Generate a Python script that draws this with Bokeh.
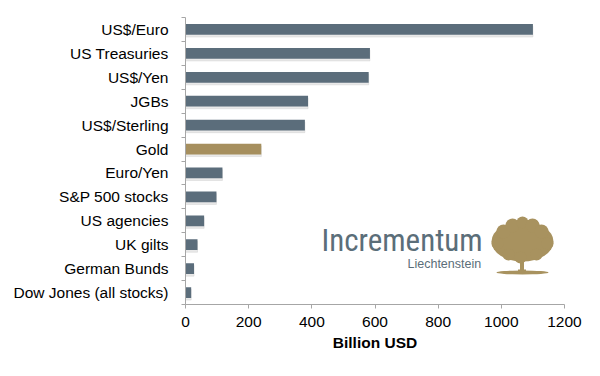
from bokeh.plotting import figure
from bokeh.models import ColumnDataSource, FixedTicker, Range1d, Label
from bokeh.embed import file_html
from bokeh.resources import INLINE

# ---- data (top to bottom) ----
categories = ["US$/Euro", "US Treasuries", "US$/Yen", "JGBs", "US$/Sterling", "Gold",
              "Euro/Yen", "S&P 500 stocks", "US agencies", "UK gilts", "German Bunds",
              "Dow Jones (all stocks)"]
volumes = [1100, 584, 580, 388, 378, 240, 117, 98, 59, 38, 27, 18]
x_ticks = [0, 200, 400, 600, 800, 1000, 1200]

SLATE = "#5b6d7b"
GOLD = "#a68f5e"
n = len(categories)
ypos = [n - 0.5 - i for i in range(n)]
colors = [GOLD if c == "Gold" else SLATE for c in categories]

src = ColumnDataSource(dict(y=ypos, v=volumes, c=colors, cat=categories,
                            ys=[y - 0.09 for y in ypos]))

W, H = 600, 376
FL, FR, FT, FB = 185, 36, 17, 72
XMAX = 1200

p = figure(width=W, height=H, output_backend="svg", toolbar_location=None,
           x_range=Range1d(0, XMAX), y_range=Range1d(0, n),
           min_border_left=FL, min_border_right=FR, min_border_top=FT, min_border_bottom=FB)
p.outline_line_color = None
p.xgrid.visible = False
p.ygrid.visible = False
p.background_fill_color = "white"
p.border_fill_color = "white"

# soft shadow + bars
p.hbar(y="ys", left=0, right="v", height=0.45, source=src, color="#cfcfcf", alpha=0.45)
p.hbar(y="y", left=0, right="v", height=0.45, source=src, fill_color="c", line_color=None)

FONT = "Liberation Sans"
AX = "#a6a6a6"

# y axis
ya = p.yaxis[0]
ya.ticker = FixedTicker(ticks=ypos, minor_ticks=list(range(n + 1)))
ya.major_label_overrides = {y: c for y, c in zip(ypos, categories)}
ya.major_tick_out = 0
ya.major_tick_in = 0
ya.minor_tick_out = 4
ya.minor_tick_in = 0
ya.minor_tick_line_color = AX
ya.axis_line_color = AX
ya.major_label_standoff = 13
ya.major_label_text_font = FONT
ya.major_label_text_font_size = "15.5px"
ya.major_label_text_color = "#000000"

# x axis
xa = p.xaxis[0]
xa.ticker = FixedTicker(ticks=x_ticks, minor_ticks=[])
xa.major_tick_out = 4
xa.major_tick_in = 0
xa.major_tick_line_color = AX
xa.axis_line_color = AX
xa.major_label_standoff = 8
xa.major_label_text_font = FONT
xa.major_label_text_font_size = "15.5px"
xa.major_label_text_color = "#000000"
xa.axis_label = "Billion USD"
xa.axis_label_text_font = FONT
xa.axis_label_text_font_size = "15.5px"
xa.axis_label_text_font_style = "bold"
xa.axis_label_text_color = "#000000"
xa.axis_label_standoff = 4

# ---- logo (pixel placement converted into data space) ----
fw = W - FL - FR
fh = H - FT - FB
def dx(px):
    return (px - FL) * XMAX / fw
def dy(py):
    return (H - FB - py) * n / fh

p.add_layout(Label(x=dx(321), y=dy(240), text="Incrementum",
                   text_font="Liberation Sans Narrow, Roboto Condensed, Arial Narrow, sans-serif",
                   text_font_size="31px", text_color="#5b6e79", text_baseline="middle"))
p.add_layout(Label(x=dx(407), y=dy(263), text="Liechtenstein",
                   text_font=FONT, text_font_size="12.5px", text_color="#5b6e79",
                   text_baseline="middle"))

TREE = "#a8925f"
# ground
p.ellipse(x=dx(522), y=dy(272), width=52, height=4, width_units="screen",
          height_units="screen", fill_color=TREE, line_color=None)
# trunk
p.quad(left=dx(519.5), right=dx(523.5), top=dy(255), bottom=dy(272),
       fill_color=TREE, line_color=None)
p.quad(left=dx(517.5), right=dx(525.5), top=dy(269), bottom=dy(272),
       fill_color=TREE, line_color=None)
# canopy
p.ellipse(x=dx(522), y=dy(241), width=62, height=40, width_units="screen",
          height_units="screen", fill_color=TREE, line_color=None)
bx = [503, 512, 522, 532, 541, 497, 547, 508, 536, 520]
by = [231, 225, 222, 225, 231, 243, 243, 254, 254, 257]
bs = [14, 14, 12, 14, 14, 12, 12, 12, 12, 12]
p.ellipse(x=[dx(v) for v in bx], y=[dy(v) for v in by], width=bs, height=bs,
          width_units="screen", height_units="screen", fill_color=TREE, line_color=None)

open("out.html", "w").write(file_html(p, INLINE))
